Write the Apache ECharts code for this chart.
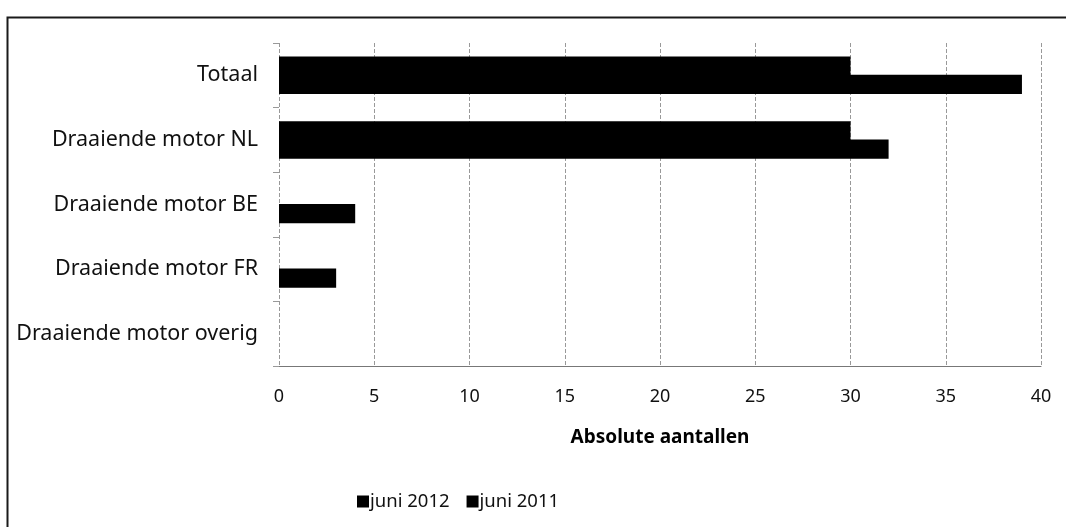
<!DOCTYPE html>
<html>
<head>
<meta charset="utf-8">
<script src="https://cdn.jsdelivr.net/npm/echarts@6/dist/echarts.min.js"></script>
<style>
  html, body { margin: 0; padding: 0; background: #fff; }
  #chart { width: 1066px; height: 527px; }
</style>
</head>
<body>
<div id="chart"></div>
<script>
// Categories, top to bottom
const categories = [
  'Totaal',
  'Draaiende motor NL',
  'Draaiende motor BE',
  'Draaiende motor FR',
  'Draaiende motor overig'
];
// Counts per category
const juni2012 = [30, 30, 0, 0, 0];
const juni2011 = [39, 32, 4, 3, 0];
const seriesNames = ['juni 2012', 'juni 2011'];
const xTicks = { min: 0, max: 40, interval: 5 };
const axisTitle = 'Absolute aantallen';

const font = 'Noto Sans';
const chart = echarts.init(document.getElementById('chart'), null, { renderer: 'canvas' });

// the two bars of a group touch; a slight overlap hides the anti-aliased seam
const barStyle = { color: '#000' };

chart.setOption({
  backgroundColor: '#ffffff',
  animation: false,
  textStyle: { fontFamily: font },
  graphic: [{
    type: 'rect',
    left: 5, top: 15,
    shape: { width: 1100, height: 560 },
    style: { fill: 'none', stroke: '#1a1a1a', lineWidth: 2 },
    z: 0
  }],
  grid: { left: 279, right: 25, top: 43, bottom: 161 },
  legend: {
    left: 352, top: 487,
    itemWidth: 12, itemHeight: 12, itemGap: 17,
    icon: 'rect',
    textStyle: { fontFamily: font, fontSize: 18.5, color: '#111', padding: [0, 0, 0, -4] },
    data: seriesNames
  },
  xAxis: {
    type: 'value',
    min: xTicks.min, max: xTicks.max, interval: xTicks.interval,
    name: axisTitle,
    nameLocation: 'middle',
    nameGap: 62,
    nameTextStyle: { fontFamily: font, fontSize: 19, fontWeight: 'bold', color: '#000' },
    axisLine: { show: true, lineStyle: { color: '#777', width: 1 } },
    axisTick: { show: false },
    axisLabel: { fontFamily: font, fontSize: 18, color: '#111', margin: 22 },
    splitLine: { show: true, lineStyle: { color: '#999', type: [4, 2], width: 1 } }
  },
  yAxis: {
    type: 'category',
    data: categories,
    inverse: true,
    axisLine: { show: false },
    axisTick: { show: true, length: 6, lineStyle: { color: '#999' } },
    axisLabel: { fontFamily: font, fontSize: 21.5, color: '#111', margin: 21 },
    splitLine: { show: false }
  },
  series: [
    {
      name: seriesNames[0], type: 'bar', data: juni2012,
      itemStyle: barStyle,
      barGap: '-5%', barCategoryGap: '42%'
    },
    {
      name: seriesNames[1], type: 'bar', data: juni2011,
      itemStyle: barStyle,
      barGap: '-5%', barCategoryGap: '42%'
    }
  ]
});
</script>
</body>
</html>
